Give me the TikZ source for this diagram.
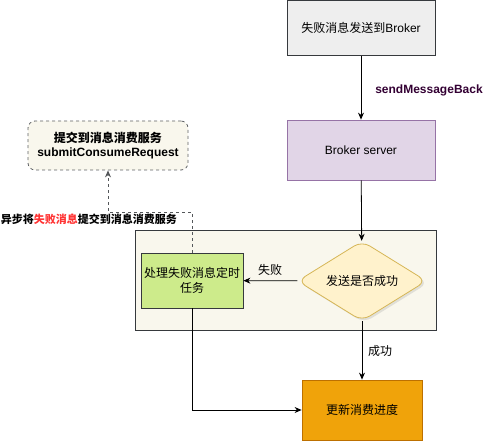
\documentclass[tikz,border=0pt]{standalone}
\usepackage{fontspec}
\setmainfont{Liberation Sans}
\newfontfamily\cjk{Noto Sans CJK SC}
\usetikzlibrary{arrows.meta,shapes.geometric,shadows,positioning}
\definecolor{lineDark}{HTML}{36393D}
\definecolor{greyFill}{HTML}{EEEEEE}
\definecolor{lilacFill}{HTML}{E1D5E7}
\definecolor{lilacLine}{HTML}{9673A6}
\definecolor{paperFill}{HTML}{F9F7ED}
\definecolor{limeFill}{HTML}{CDEB8B}
\definecolor{creamFill}{HTML}{FFF2CC}
\definecolor{creamLine}{HTML}{D6B656}
\definecolor{amberFill}{HTML}{F0A30A}
\definecolor{amberLine}{HTML}{BD7000}
\definecolor{plumText}{HTML}{330033}
\definecolor{alertRed}{HTML}{FF3333}
\tikzset{
  box/.style={draw=lineDark, line width=0.8pt, inner sep=0pt, align=center},
  flow/.style={-{Stealth[length=7pt,width=6pt]}, line width=0.8pt},
  lbl/.style={inner sep=0pt, align=center},
}

\begin{document}
\begin{tikzpicture}[x=1pt, y=-1pt, font=\fontsize{12}{15}\selectfont]
  %%%%% START %%%%%
  \useasboundingbox (0,0) rectangle (501,441);

  % container of the retry step
  \draw[draw=lineDark, fill=paperFill, line width=0.8pt] (135,230) rectangle (436,330);

  \node[box, fill=greyFill, minimum width=148pt, minimum height=55pt] (sendfail) at (361,28) {{\cjk 失败消息发送到}Broker};
  \node[box, draw=lilacLine, fill=lilacFill, minimum width=148pt, minimum height=60pt] (broker) at (361,150) {Broker server};
  \node[box, fill=limeFill, minimum width=102pt, minimum height=55pt] (retrytask) at (192,280.5) {\cjk 处理失败消息定时\\\cjk 任务};
  \node[diamond, aspect=1.62, minimum width=129pt, minimum height=80pt, inner sep=0pt,
        rounded corners=9pt, draw=creamLine, fill=creamFill, line width=0.8pt,
        drop shadow={opacity=0.2, shadow xshift=2pt, shadow yshift=-2pt}] (sendok) at (362,281) {\cjk 发送是否成功};
  \node[box, draw=amberLine, fill=amberFill, minimum width=120pt, minimum height=60pt] (progress) at (362,410) {\cjk 更新消费进度};
  \node[box, draw=lineDark!80, fill=paperFill, dash pattern=on 3pt off 3pt, rounded corners=7pt,
        minimum width=160pt, minimum height=49pt, font=\fontsize{12}{14}\selectfont\bfseries] (submit) at (108,145.5)
        {{\cjk 提交到消息消费服务}\\submitConsumeRequest};

  % connectors
  \draw[flow] (sendfail) -- (broker);
  \node[lbl, text=plumText, font=\fontsize{12}{14}\selectfont\bfseries] (sendlbl) at (429,90) {sendMessageBack};
  \draw[flow] (broker) -- (sendok);
  \draw[flow] (sendok) -- (retrytask);
  \node[lbl] (faillbl) at (270,270) {\cjk 失败};
  \draw[flow] (sendok) -- (progress);
  \node[lbl] (oklbl) at (380,351) {\cjk 成功};
  \draw[flow] (retrytask.south) |- (progress.west);

  \coordinate (bend) at (192,212);
  \draw[flow, draw=lineDark!85, dash pattern=on 3pt off 3pt] (retrytask.north) -- (bend) -| (submit.south);
  \node[lbl, font=\fontsize{11}{13}\selectfont\bfseries\cjk] (asynclbl) at (89,219)
        {异步将\textcolor{alertRed}{失败消息}提交到消息消费服务};
  %%%%% END %%%%%
\end{tikzpicture}
\end{document}
